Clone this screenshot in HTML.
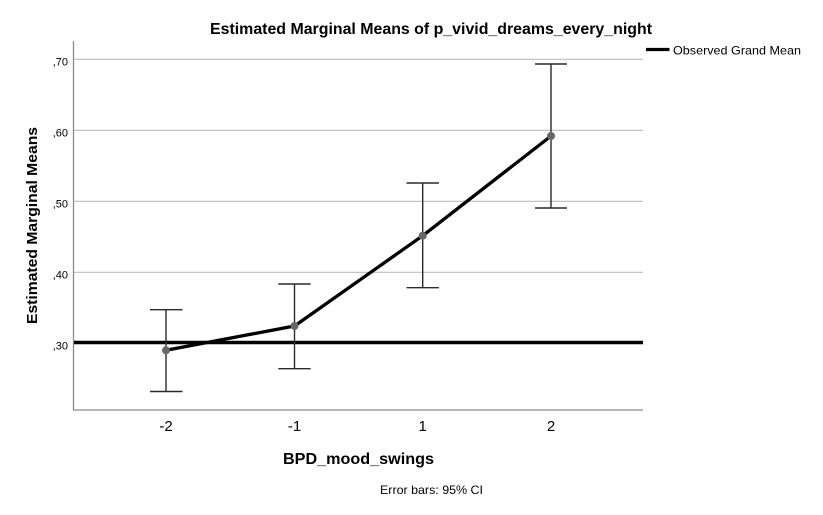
<!DOCTYPE html>
<html>
<head>
<meta charset="utf-8">
<style>
  html, body { margin: 0; padding: 0; background: #ffffff; }
  svg { display: block; }
  text { font-family: "Liberation Sans", Arial, sans-serif; fill: #000; }
</style>
</head>
<body>
<svg width="823" height="515" viewBox="0 0 823 515" xmlns="http://www.w3.org/2000/svg">
  <rect x="0" y="0" width="823" height="515" fill="#ffffff"/>

  <!-- Title -->
  <text x="210" y="34" font-size="16" font-weight="bold" textLength="442" lengthAdjust="spacingAndGlyphs">Estimated Marginal Means of p_vivid_dreams_every_night</text>

  <!-- Gridlines -->
  <g stroke="#bdbdbd" stroke-width="1.2">
    <line x1="74" y1="59.3" x2="643" y2="59.3"/>
    <line x1="74" y1="130.3" x2="643" y2="130.3"/>
    <line x1="74" y1="201.3" x2="643" y2="201.3"/>
    <line x1="74" y1="272.3" x2="643" y2="272.3"/>
    <line x1="74" y1="343.3" x2="643" y2="343.3"/>
  </g>

  <!-- Axes -->
  <g stroke="#8a8a8a" stroke-width="1.3">
    <line x1="73.5" y1="41" x2="73.5" y2="410"/>
    <line x1="73" y1="410" x2="643" y2="410"/>
  </g>

  <!-- Y tick labels -->
  <g font-size="11" text-anchor="end">
    <text x="68" y="65.3">,70</text>
    <text x="68" y="136.3">,60</text>
    <text x="68" y="207.3">,50</text>
    <text x="68" y="278.3">,40</text>
    <text x="68" y="349.3">,30</text>
  </g>

  <!-- Y axis title -->
  <text transform="translate(37,225.5) rotate(-90)" text-anchor="middle" font-size="15" font-weight="bold" textLength="197" lengthAdjust="spacingAndGlyphs">Estimated Marginal Means</text>

  <!-- X tick labels -->
  <g font-size="15" text-anchor="middle">
    <text x="166" y="431">-2</text>
    <text x="294.5" y="431">-1</text>
    <text x="422.7" y="431">1</text>
    <text x="551" y="431">2</text>
  </g>

  <!-- X axis title -->
  <text x="283" y="464" font-size="16" font-weight="bold" textLength="151" lengthAdjust="spacingAndGlyphs">BPD_mood_swings</text>

  <!-- Footnote -->
  <text x="380" y="494" font-size="12" textLength="103" lengthAdjust="spacingAndGlyphs">Error bars: 95% CI</text>

  <!-- Observed grand mean line -->
  <line x1="74" y1="342.5" x2="643" y2="342.5" stroke="#000" stroke-width="3.5"/>

  <!-- Series line -->
  <polyline points="166,350.3 294.5,326 422.7,235.7 551,136" fill="none" stroke="#000" stroke-width="3.3" stroke-linejoin="round"/>

  <!-- Error bars -->
  <g stroke="#2a2a2a" stroke-width="1.4">
    <line x1="166" y1="309.7" x2="166" y2="391.5"/>
    <line x1="150" y1="309.7" x2="182.5" y2="309.7"/>
    <line x1="150" y1="391.5" x2="182.5" y2="391.5"/>

    <line x1="294.5" y1="284" x2="294.5" y2="368.7"/>
    <line x1="278.3" y1="284" x2="310.7" y2="284"/>
    <line x1="278.3" y1="368.7" x2="310.7" y2="368.7"/>

    <line x1="422.7" y1="183" x2="422.7" y2="287.7"/>
    <line x1="406.5" y1="183" x2="438.9" y2="183"/>
    <line x1="406.5" y1="287.7" x2="438.9" y2="287.7"/>

    <line x1="551" y1="64" x2="551" y2="208"/>
    <line x1="535" y1="64" x2="567" y2="64"/>
    <line x1="535" y1="208" x2="567" y2="208"/>
  </g>

  <!-- Points -->
  <g fill="#666666">
    <circle cx="166" cy="350.3" r="4"/>
    <circle cx="294.5" cy="326" r="4"/>
    <circle cx="422.7" cy="235.7" r="4"/>
    <circle cx="551" cy="136" r="4"/>
  </g>

  <!-- Legend -->
  <line x1="646" y1="49.5" x2="669.5" y2="49.5" stroke="#000" stroke-width="3.3"/>
  <text x="673" y="54.5" font-size="12" textLength="128" lengthAdjust="spacingAndGlyphs">Observed Grand Mean</text>
</svg>
</body>
</html>
